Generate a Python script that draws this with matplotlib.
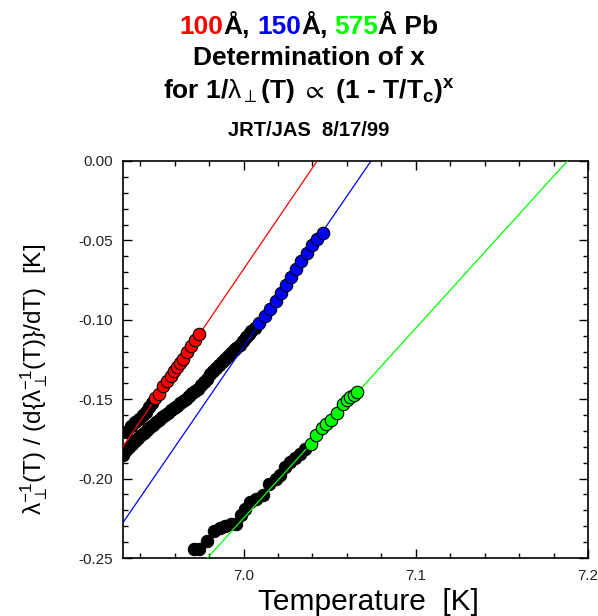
import numpy as np
import matplotlib
matplotlib.use("Agg")
import matplotlib.pyplot as plt
from matplotlib.ticker import MultipleLocator, FormatStrFormatter
from matplotlib.font_manager import FontProperties

plt.rcParams['font.family'] = ['Liberation Sans', 'DejaVu Sans']
plt.rcParams['mathtext.fontset'] = 'custom'
plt.rcParams['mathtext.rm'] = 'Liberation Sans'
plt.rcParams['mathtext.it'] = 'Liberation Sans:italic'
plt.rcParams['mathtext.bf'] = 'Liberation Sans:bold'
plt.rcParams['mathtext.fallback'] = 'stixsans'
plt.rcParams['axes.unicode_minus'] = False

# --- data ---
# 100 A film: low-T points (black) and points used in the fit (red)
t_100_low = [6.9316, 6.9345, 6.9368, 6.9391, 6.9414, 6.9432, 6.9452, 6.9470]
y_100_low = [-0.1707, -0.1669, -0.1644, -0.1625, -0.1599, -0.1581, -0.1549, -0.1527]
t_100_fit = [6.9486, 6.9509, 6.9530, 6.9554, 6.9577, 6.9594, 6.9614, 6.9632,
             6.9648, 6.9671, 6.9694, 6.9717, 6.9741]
y_100_fit = [-0.1494, -0.1470, -0.1417, -0.1385, -0.1354, -0.1322, -0.1297, -0.1272,
             -0.1244, -0.1205, -0.1168, -0.1127, -0.1089]

# 150 A film
t_150_low = [6.9299, 6.9316, 6.9333, 6.9351, 6.9368, 6.9386, 6.9403, 6.9420, 6.9438,
             6.9455, 6.9472, 6.9490, 6.9507, 6.9525, 6.9542, 6.9559, 6.9577, 6.9594,
             6.9612, 6.9629, 6.9646, 6.9664, 6.9681, 6.9699, 6.9716, 6.9733, 6.9751,
             6.9768, 6.9786, 6.9803, 6.9820, 6.9838, 6.9855, 6.9872, 6.9890, 6.9907,
             6.9925, 6.9942, 6.9959, 6.9977, 6.9994, 7.0012, 7.0029, 7.0046, 7.0064]
y_150_low = [-0.1851, -0.1820, -0.1801, -0.1782, -0.1763, -0.1744, -0.1725, -0.1710,
             -0.1694, -0.1678, -0.1662, -0.1644, -0.1631, -0.1615, -0.1599, -0.1584,
             -0.1568, -0.1555, -0.1540, -0.1524, -0.1511, -0.1496, -0.1480, -0.1464,
             -0.1448, -0.1433, -0.1411, -0.1392, -0.1373, -0.1341, -0.1322, -0.1304,
             -0.1285, -0.1266, -0.1244, -0.1228, -0.1209, -0.1193, -0.1178, -0.1159,
             -0.1134, -0.1108, -0.1089, -0.1071, -0.1052]
t_150_fit = [7.0087, 7.0123, 7.0154, 7.0186, 7.0217, 7.0246, 7.0275, 7.0307, 7.0336,
             7.0369, 7.0398, 7.0427, 7.0461]
y_150_fit = [-0.1023, -0.0976, -0.0929, -0.0880, -0.0831, -0.0781, -0.0729, -0.0677,
             -0.0628, -0.0578, -0.0529, -0.0491, -0.0455]

# 575 A film
t_575_low = [6.9710, 6.9739, 6.9786, 6.9826, 6.9861, 6.9890, 6.9925, 6.9959, 6.9988,
             7.0006, 7.0035, 7.0075, 7.0110, 7.0145, 7.0186, 7.0214, 7.0243, 7.0272,
             7.0301, 7.0330, 7.0359]
y_575_low = [-0.2443, -0.2446, -0.2396, -0.2327, -0.2308, -0.2298, -0.2289, -0.2289,
             -0.2232, -0.2191, -0.2147, -0.2128, -0.2103, -0.2034, -0.2003, -0.1980,
             -0.1927, -0.1895, -0.1870, -0.1842, -0.1814]
t_575_fit = [7.0394, 7.0423, 7.0455, 7.0481, 7.0510, 7.0545, 7.0577, 7.0600, 7.0620,
             7.0641, 7.0661]
y_575_fit = [-0.1779, -0.1725, -0.1684, -0.1656, -0.1628, -0.1584, -0.1533, -0.1508,
             -0.1489, -0.1474, -0.1455]

# fit lines (end points)
line_100_t = [6.9293, 7.0427]
line_100_y = [-0.1809, 0.0]
line_150_t = [6.9293, 7.0740]
line_150_y = [-0.2288, 0.0]
line_575_t = [6.9790, 7.1880]
line_575_y = [-0.2500, 0.0]

series = [
    (t_100_low, y_100_low, t_100_fit, y_100_fit, line_100_t, line_100_y, "#ff0000"),
    (t_150_low, y_150_low, t_150_fit, y_150_fit, line_150_t, line_150_y, "#0000ff"),
    (t_575_low, y_575_low, t_575_fit, y_575_fit, line_575_t, line_575_y, "#00ff00"),
]

W, H = 598, 616
fig = plt.figure(figsize=(W / 100, H / 100), dpi=100)
ax = fig.add_axes([123 / W, 58 / H, 465 / W, 397 / H])

ms = 9.0
for t_lo, y_lo, t_fit, y_fit, lt, ly, col in series:
    ax.plot(t_lo, y_lo, 'o', ms=ms, mfc='black', mec='black', mew=0.7, zorder=2)
    ax.plot(lt, ly, '-', color=col, lw=0.9, zorder=3)
    ax.plot(t_fit, y_fit, 'o', ms=ms, mfc=col, mec='black', mew=0.8, zorder=4)

ax.set_xlim(6.93, 7.2)
ax.set_ylim(-0.25, 0.0)
ax.xaxis.set_major_locator(MultipleLocator(0.1))
ax.xaxis.set_minor_locator(MultipleLocator(0.02))
ax.yaxis.set_major_locator(MultipleLocator(0.05))
ax.yaxis.set_minor_locator(MultipleLocator(0.01))
ax.xaxis.set_major_formatter(FormatStrFormatter('%.1f'))
ax.yaxis.set_major_formatter(FormatStrFormatter('%.2f'))
ax.tick_params(which='both', direction='in', top=True, right=True, width=1.0,
               labelsize=11, labelcolor='#222222')
ax.tick_params(which='major', length=6.5)
ax.tick_params(which='minor', length=3.6)
ax.tick_params(axis='x', pad=8)
ax.tick_params(axis='y', pad=7)
for sp in ax.spines.values():
    sp.set_linewidth(1.2)

ax.set_xlabel("Temperature  [K]", fontsize=21.5, va='baseline')
ax.xaxis.set_label_coords(0.527, -0.131)
ax.set_ylabel(r"$\mathrm{\lambda}_{\perp}^{\mathrm{-1}}$(T) / (d{$\mathrm{\lambda}_{\perp}^{\mathrm{-1}}$(T)}/dT)  [K]",
              fontsize=17.5, va='center')
ax.yaxis.set_label_coords(-0.19, 0.45)

# --- title block ---
title_parts = [("100", "#ff0000"), ("Å,", "black"), ("150", "#0000ff"),
               ("Å,", "black"), ("575", "#00ff00"), ("Å Pb", "black")]
title_full = "100Å, 150Å, 575Å Pb"
cx = 309
fs1 = 19
renderer = fig.canvas.get_renderer()
fp = FontProperties(family=['Liberation Sans'], weight='bold', size=fs1)


def text_w(s):
    w, h, d = renderer.get_text_width_height_descent(s, fp, ismath=False)
    return w


total = text_w(title_full)
left = cx - total / 2
pos = 0
for s, c in title_parts:
    idx = title_full.index(s, pos)
    start = text_w(title_full[:idx + len(s)]) - text_w(s)
    fig.text((left + start) / W, 1 - 34.5 / H, s, color=c, fontproperties=fp,
             ha='left', va='baseline')
    pos = idx + len(s)

fig.text(cx / W, 1 - 65 / H, "Determination of x", fontsize=fs1, fontweight='bold',
         ha='center', va='baseline')
fig.text(cx / W, 1 - 98.5 / H,
         r"for 1/$\mathrm{\lambda}_{\perp}$(T) $\propto$ (1 - T/T$_{\mathbf{c}}$)$^{\mathbf{x}}$",
         fontsize=fs1, fontweight='bold', ha='center', va='baseline')
fig.text(cx / W, 1 - 136.5 / H, "JRT/JAS  8/17/99", fontsize=14.5, fontweight='bold',
         ha='center', va='baseline')

fig.savefig("out.png", dpi=100)
